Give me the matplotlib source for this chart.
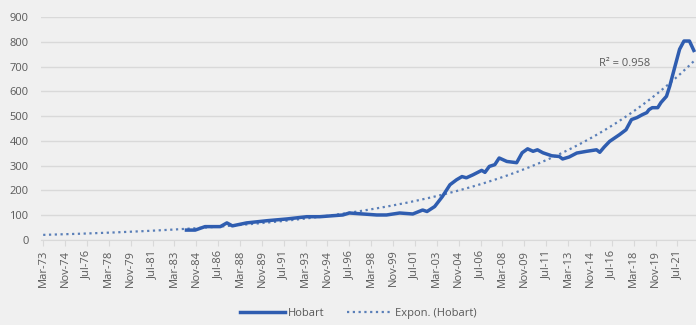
import matplotlib.pyplot as plt
import numpy as np
import pandas as pd

# Hobart values (month, value)
dates = ['1984-02', '1984-10', '1985-07', '1986-09', '1987-03', '1987-08', '1988-09',
         '1990-04', '1991-10', '1993-04', '1994-04', '1996-01', '1996-07', '1998-08',
         '1999-05', '2000-05', '2001-05', '2002-02', '2002-06', '2003-01', '2003-08',
         '2004-03', '2004-09', '2005-02', '2005-06', '2005-12', '2006-08', '2006-11',
         '2007-03', '2007-08', '2007-12', '2008-07', '2009-04', '2009-09', '2010-02',
         '2010-07', '2010-11', '2011-04', '2011-12', '2012-07', '2012-10', '2013-04',
         '2013-11', '2014-08', '2015-05', '2015-08', '2015-12', '2016-05', '2017-02',
         '2017-08', '2018-01', '2018-06', '2018-11', '2019-03', '2019-05', '2019-08',
         '2020-01', '2020-04', '2020-09', '2020-12', '2021-04', '2021-09', '2022-01',
         '2022-06', '2022-10']
values = [40, 40, 54, 54, 69, 57, 69,
          78, 85, 94, 94, 101, 109, 101,
          101, 109, 105, 121, 115, 135, 175,
          223, 243, 256, 251, 263, 281, 273,
          297, 304, 331, 317, 312, 352, 368,
          358, 364, 352, 340, 337, 327, 335,
          351, 358, 364, 354, 375, 398, 425,
          445, 486, 494, 506, 514, 526, 534,
          534, 555, 580, 621, 688, 770, 803,
          803, 765]

start = pd.Period('1973-03', freq='M')
t = np.array([(pd.Period(d, freq='M') - start).n for d in dates])
v = np.array(values, dtype=float)

# exponential trendline (fit on log values, like Excel)
b, ln_a = np.polyfit(t, np.log(v), 1)
tt = np.arange(0, 597)
trend = np.exp(ln_a) * np.exp(b * tt)

tick_pos = np.arange(0, 581, 20)
tick_lab = [(start + int(k)).strftime('%b-%y') for k in tick_pos]

plt.rcParams['font.family'] = ['Open Sans', 'DejaVu Sans']
grey = '#595959'
bg = '#f0f0f0'

fig = plt.figure(figsize=(6.96, 3.25), dpi=100, facecolor=bg)
ax = fig.add_axes([41/696, 1 - 240/325, 655/696, 223/325], facecolor=bg)

ax.plot(tt, trend, ls=(0, (1, 1.6)), color='#5a7fb8', lw=1.6, label='Expon. (Hobart)')
ax.plot(t, v, color='#2f5db0', lw=2.5, label='Hobart', solid_joinstyle='round')

ax.set_xlim(-2, 597)
ax.set_ylim(0, 900)
ax.set_yticks(np.arange(0, 901, 100))
ax.set_xticks(tick_pos)
ax.set_xticklabels(tick_lab, rotation=90)
ax.grid(axis='y', color='#d9d9d9', lw=1)
ax.set_axisbelow(True)
for s in ['top', 'right', 'left']:
    ax.spines[s].set_visible(False)
ax.spines['bottom'].set_color('#d9d9d9')
ax.tick_params(axis='y', length=0, labelsize=8, labelcolor=grey, pad=9)
ax.tick_params(axis='x', length=4, color='#d9d9d9', labelsize=8, labelcolor=grey, pad=3)

ax.text(0.93, 0.79, 'R² = 0.958', transform=ax.transAxes, ha='right', va='center',
        fontsize=8, color=grey)

h, l = ax.get_legend_handles_labels()
fig.legend(h[::-1], l[::-1], loc='center', bbox_to_anchor=(0.515, 0.035), ncol=2,
           frameon=False, fontsize=8, labelcolor=grey, handlelength=4.0,
           handletextpad=0.3, columnspacing=2)

fig.savefig('out.png', dpi=100, facecolor=bg)
